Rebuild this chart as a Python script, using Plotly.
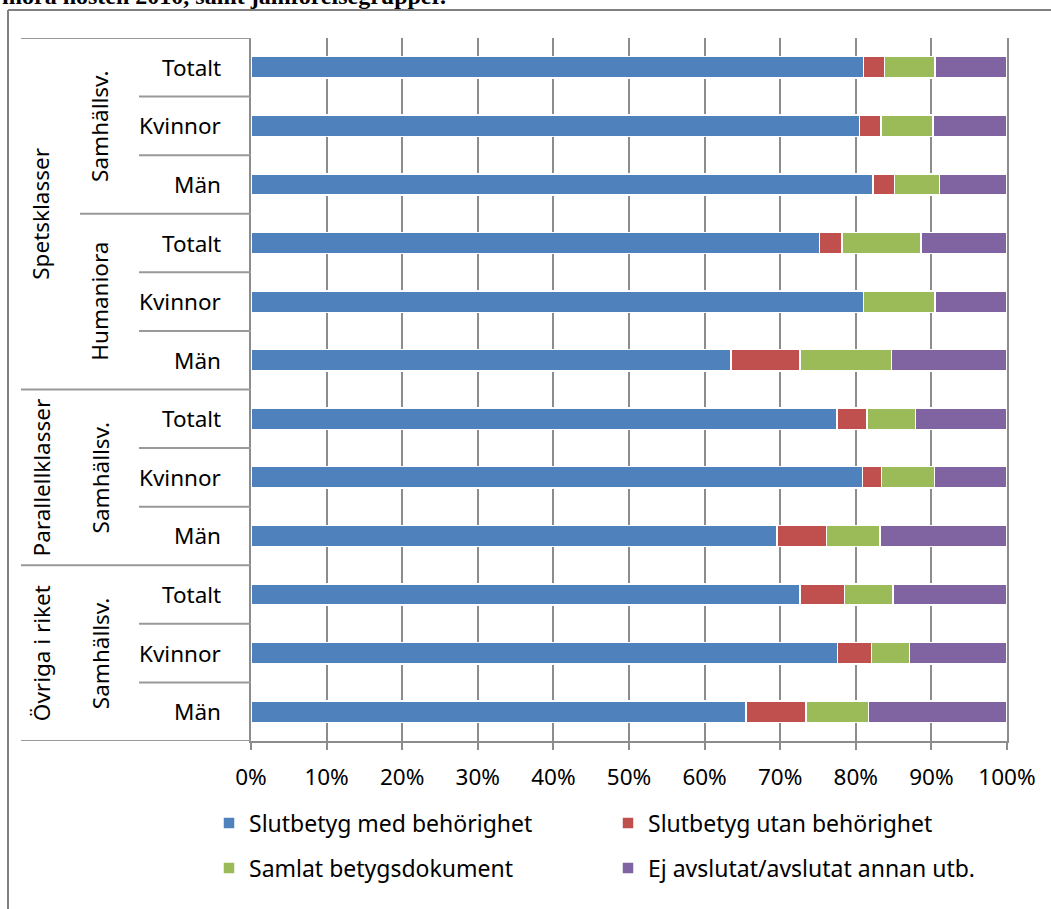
import plotly.graph_objects as go

# ---------------- data ----------------
level1 = ["Spetsklasser"] * 6 + ["Parallellklasser"] * 3 + ["Övriga i riket"] * 3
level2 = ["Samhällsv."] * 3 + ["Humaniora"] * 3 + ["Samhällsv."] * 3 + ["Samhällsv."] * 3
level3 = ["Totalt", "Kvinnor", "Män"] * 4

series_names = [
    "Slutbetyg med behörighet",
    "Slutbetyg utan behörighet",
    "Samlat betygsdokument",
    "Ej avslutat/avslutat annan utb.",
]
med_behorighet = [81.0, 80.5, 82.3, 75.2, 81.0, 63.5, 77.5, 80.9, 69.6, 72.6, 77.6, 65.5]
utan_behorighet = [2.8, 2.8, 2.8, 3.0, 0.0, 9.1, 4.0, 2.5, 6.5, 5.9, 4.5, 7.9]
samlat_dokument = [6.7, 6.9, 6.0, 10.4, 9.5, 12.1, 6.4, 7.0, 7.1, 6.4, 5.0, 8.3]
ej_avslutat = [9.5, 9.8, 8.9, 11.4, 9.5, 15.3, 12.1, 9.6, 16.8, 15.1, 12.9, 18.3]

tick_values = [0, 10, 20, 30, 40, 50, 60, 70, 80, 90, 100]
tick_labels = ["0%", "10%", "20%", "30%", "40%", "50%", "60%", "70%", "80%", "90%", "100%"]

title_fragment = "mora hösten 2010, samt jämförelsegrupper."

# ---------------- styling ----------------
W, H = 1051, 909
ML, MR, MT, MB = 251, 44, 38, 168
PW, PH = W - ML - MR, H - MT - MB
colors = ["#4F81BD", "#C0504D", "#9BBB59", "#8064A2"]
FONT = "Noto Sans"
GRID = "#8c8c8c"
SEP = "#999999"


def px_x(px):
    return (px - ML) / PW


def px_y(py):
    return (H - MB - py) / PH


cats = [f"{a}|{b}|{c}" for a, b, c in zip(level1, level2, level3)]
values = [med_behorighet, utan_behorighet, samlat_dokument, ej_avslutat]
legend_ids = ["legend", "legend", "legend2", "legend2"]

fig = go.Figure()
for name, vals, col, lg in zip(series_names, values, colors, legend_ids):
    fig.add_trace(go.Bar(
        y=cats, x=vals, name=name, orientation="h",
        marker=dict(color=col, line=dict(color="white", width=1.5)),
        legend=lg,
    ))

n = len(cats)
shapes = []
# separators between categories (hierarchical)
for i in range(n + 1):
    yb = i - 0.5
    if i == 0 or i == n or level1[i] != level1[i - 1]:
        x0 = 21
    elif level2[i] != level2[i - 1]:
        x0 = 80
    else:
        x0 = 139
    shapes.append(dict(type="line", xref="paper", yref="y",
                       x0=px_x(x0), x1=0, y0=yb, y1=yb,
                       line=dict(color=SEP, width=2), layer="above"))

# outer frame of the figure (left and top)
shapes.append(dict(type="line", xref="paper", yref="paper",
                   x0=px_x(8), x1=px_x(8), y0=px_y(10), y1=px_y(H + 5),
                   line=dict(color="#808080", width=2)))
shapes.append(dict(type="line", xref="paper", yref="paper",
                   x0=px_x(8), x1=px_x(W + 5), y0=px_y(10), y1=px_y(10),
                   line=dict(color="#808080", width=2)))

annotations = []
lab_font = dict(family=FONT, size=22.5, color="#000000")
for c, lab in zip(cats, level3):
    annotations.append(dict(xref="paper", yref="y", x=px_x(223), y=c, text=lab,
                            xanchor="right", yanchor="middle", showarrow=False,
                            font=lab_font))


def group_spans(keys):
    spans = []
    start = 0
    for i in range(1, len(keys) + 1):
        if i == len(keys) or keys[i] != keys[start]:
            spans.append((start, i - 1))
            start = i
    return spans


l2keys = [f"{a}|{b}" for a, b in zip(level1, level2)]
for s, e in group_spans(l2keys):
    annotations.append(dict(xref="paper", yref="y", x=px_x(100), y=(s + e) / 2,
                            text=level2[s], textangle=-90, xanchor="center",
                            yanchor="middle", showarrow=False, font=lab_font))
for s, e in group_spans(level1):
    annotations.append(dict(xref="paper", yref="y", x=px_x(41), y=(s + e) / 2,
                            text=level1[s], textangle=-90, xanchor="center",
                            yanchor="middle", showarrow=False, font=lab_font))

annotations.append(dict(xref="paper", yref="paper", x=px_x(0), y=px_y(-3.5),
                        text=f"<b>{title_fragment}</b>", xanchor="left",
                        yanchor="middle", showarrow=False,
                        font=dict(family="Liberation Serif", size=24, color="#000000")))

fig.update_layout(
    width=W, height=H,
    margin=dict(l=ML, r=MR, t=MT, b=MB, pad=0),
    barmode="stack", bargap=0.635,
    plot_bgcolor="white", paper_bgcolor="white",
    font=dict(family=FONT, size=22.5, color="#000000"),
    xaxis=dict(range=[0, 100], tickvals=tick_values, ticktext=tick_labels,
               showgrid=True, gridcolor=GRID, gridwidth=2, zeroline=False,
               showline=True, linecolor=GRID, linewidth=2,
               ticks="outside", ticklen=7, tickwidth=2, tickcolor=GRID,
               ticklabelstandoff=8,
               tickfont=dict(family=FONT, size=22.5, color="#000000"),
               fixedrange=True),
    yaxis=dict(categoryorder="array", categoryarray=cats, range=[n - 0.5, -0.5],
               showticklabels=False, showgrid=False, zeroline=False,
               showline=True, linecolor=GRID, linewidth=2, mirror=True,
               ticks="", fixedrange=True),
    legend=dict(orientation="h", x=px_x(209), y=px_y(823), xanchor="left",
                yanchor="middle", entrywidth=354, entrywidthmode="pixels",
                font=dict(family=FONT, size=23, color="#000000"),
                bgcolor="rgba(0,0,0,0)", traceorder="normal"),
    legend2=dict(orientation="h", x=px_x(209), y=px_y(868), xanchor="left",
                 yanchor="middle", entrywidth=354, entrywidthmode="pixels",
                 font=dict(family=FONT, size=23, color="#000000"),
                 bgcolor="rgba(0,0,0,0)", traceorder="normal"),
    shapes=shapes, annotations=annotations,
    showlegend=True,
)

fig.write_html("out.html", config={"displayModeBar": False},
               post_script="document.body.style.margin='0';document.body.style.overflow='hidden';")
